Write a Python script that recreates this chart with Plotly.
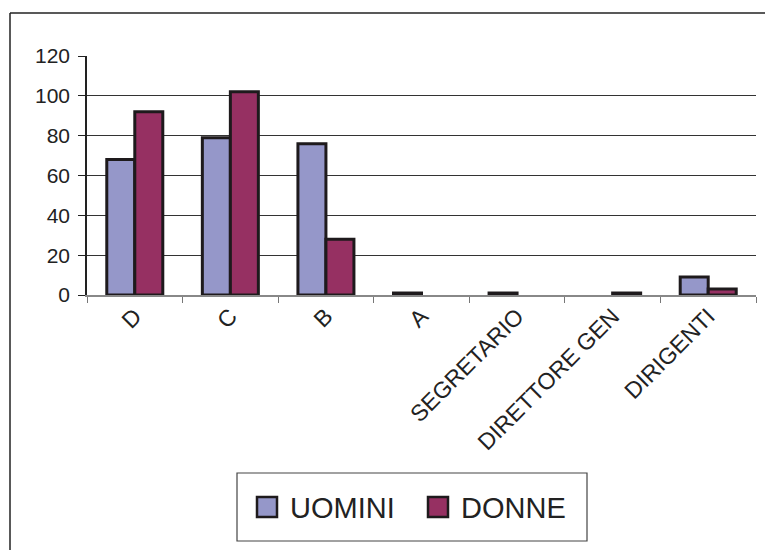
import plotly.graph_objects as go

# Staff counts by category, split by gender
categories = ["D", "C", "B", "A", "SEGRETARIO", "DIRETTORE GEN", "DIRIGENTI"]
uomini = [68, 79, 76, 1, 1, 0, 9]
donne = [92, 102, 28, 0, 0, 1, 3]
y_ticks = [0, 20, 40, 60, 80, 100, 120]

series = [("UOMINI", uomini, "#9597C9"), ("DONNE", donne, "#963062")]

W, H = 765, 550
L, R, T, B = 87, 9, 56, 255
pw, ph = W - L - R, H - T - B


def px(x):
    return (x - L) / pw


def py(y):
    return (H - B - y) / ph


FONT = "Liberation Sans, Arial, sans-serif"
OUTLINE = "#1e1a1c"

fig = go.Figure()
for name, vals, color in series:
    fig.add_trace(go.Bar(
        x=categories, y=vals, name=name, showlegend=False,
        marker=dict(color=color,
                    line=dict(color=OUTLINE,
                              width=[3 if v > 0 else 0 for v in vals])),
    ))

# outer chart frame (top and left edges) and legend box
shapes = [
    dict(type="line", xref="paper", yref="paper",
         x0=px(10), x1=px(770), y0=py(13), y1=py(13),
         line=dict(color="#222", width=1.5)),
    dict(type="line", xref="paper", yref="paper",
         x0=px(10), x1=px(10), y0=py(13), y1=py(560),
         line=dict(color="#222", width=1.5)),
    dict(type="rect", xref="paper", yref="paper",
         x0=px(237), x1=px(587), y0=py(473), y1=py(541),
         line=dict(color="#444", width=1.2), fillcolor="rgba(0,0,0,0)"),
]
annotations = []

# legend entries: swatch + label
legend_x = [257, 428]
for (name, vals, color), lx in zip(series, legend_x):
    shapes.append(dict(
        type="rect", xref="paper", yref="paper",
        x0=px(lx), x1=px(lx + 20), y0=py(497), y1=py(517),
        fillcolor=color, line=dict(color=OUTLINE, width=2.5),
    ))
    annotations.append(dict(
        xref="paper", yref="paper", x=px(lx + 31), y=py(508),
        xanchor="left", yanchor="middle", showarrow=False,
        text=name, font=dict(size=29, family=FONT, color="#222"),
    ))

fig.update_layout(
    width=W, height=H,
    margin=dict(l=L, r=R, t=T, b=B),
    paper_bgcolor="white", plot_bgcolor="white",
    barmode="group", bargap=0.414, bargroupgap=0,
    font=dict(family=FONT, color="#222", size=21),
    shapes=shapes, annotations=annotations,
    showlegend=False,
    xaxis=dict(
        type="category", tickson="boundaries",
        ticks="outside", ticklen=6, tickcolor="#777", tickwidth=1.2,
        showline=True, linecolor="#888", linewidth=1.5,
        tickangle=-45, tickfont=dict(size=23, family=FONT, color="#222"),
        ticklabelstandoff=-3,
        showgrid=False,
    ),
    yaxis=dict(
        range=[0, 120], tickvals=y_ticks,
        ticks="outside", ticklen=7, tickcolor="#222", tickwidth=1.2,
        showline=True, linecolor="#222", linewidth=1.5,
        showgrid=True, gridcolor="#333", gridwidth=1.2,
        zeroline=False, ticklabelstandoff=4,
        tickfont=dict(size=21, family=FONT, color="#222"),
    ),
)

fig.write_html("out.html")
